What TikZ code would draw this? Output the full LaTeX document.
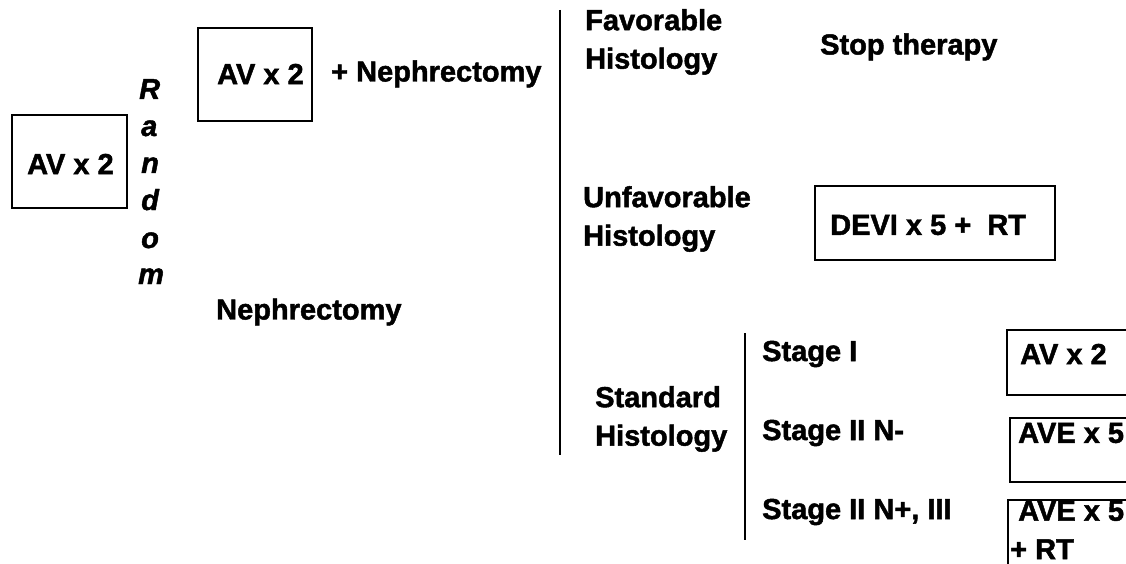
\documentclass[tikz,border=0pt]{standalone}
\usepackage{fontspec}
\setmainfont{Liberation Sans}
\newfontfamily\heavy[FakeBold=1.6]{Liberation Sans Bold}
\newfontfamily\heavyit[FakeBold=1.6]{Liberation Sans Bold Italic}
\begin{document}
\begin{tikzpicture}[x=1pt,y=-1pt,
  lbl/.style={font=\fontsize{29}{38.5}\heavy, inner sep=0pt, anchor=west, align=left},
  rnd/.style={font=\fontsize{29}{36}\heavyit, inner sep=0pt, anchor=base west},
  frame/.style={draw=black, line width=1.1pt},
  sep/.style={draw=black, line width=1.1pt}]
\useasboundingbox (0,0) rectangle (1126,564);
\clip (0,0) rectangle (1126,564);
% left box
\draw[frame] (12,115) rectangle (127,208);
\node[lbl] (av0) at (27,164) {AV x 2};
% Random
\node[rnd] (r1) at (139,99) {R};
\node[rnd] (r2) at (141,136) {a};
\node[rnd] (r3) at (141,173) {n};
\node[rnd] (r4) at (141,210) {d};
\node[rnd] (r5) at (141,248) {o};
\node[rnd] (r6) at (138,284) {m};
% top arm
\draw[frame] (198,28) rectangle (312,121);
\node[lbl] (av1) at (217,74) {AV x 2};
\node[lbl] (neph1) at (331,74) {+ Nephrectomy};
\node[lbl] (neph2) at (216,312) {Nephrectomy};
% separator
\coordinate (s1a) at (560,10);
\coordinate (s1b) at (560,455);
\draw[sep] (s1a) -- (s1b);
% histology
\node[lbl] (fav) at (585,42) {Favorable\\Histology};
\node[lbl] (stop) at (820,47) {Stop therapy};
\node[lbl] (unf) at (583,219) {Unfavorable\\Histology};
\draw[frame] (815,186) rectangle (1055,260);
\node[lbl] (devi) at (830,225) {DEVI x 5 +\ \ RT};
\node[lbl] (std) at (595,419) {Standard\\Histology};
\coordinate (s2a) at (745,333);
\coordinate (s2b) at (745,540);
\draw[sep] (s2a) -- (s2b);
\node[lbl] (st1) at (762,354) {Stage I};
\node[lbl] (st2) at (762,433) {Stage II N-};
\node[lbl] (st3) at (762,512) {Stage II N+, III};
\draw[frame] (1007,330) rectangle (1140,395);
\node[lbl] (t1) at (1020,354) {AV x 2};
\draw[frame] (1010,418) rectangle (1140,482);
\node[lbl] (t2) at (1018,433) {AVE x 5};
\draw[frame] (1008,500) rectangle (1140,580);
\node[lbl] (t3) at (1010,530) {\ AVE x 5\\+ RT};
\end{tikzpicture}
\end{document}
